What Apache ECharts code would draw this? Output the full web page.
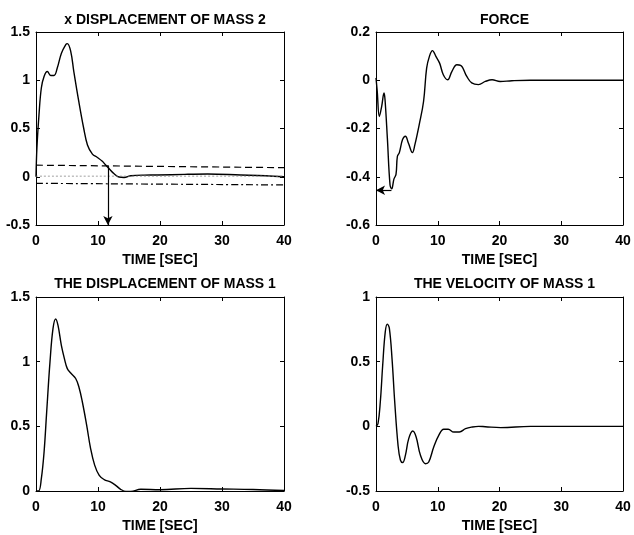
<!DOCTYPE html>
<html>
<head>
<meta charset="utf-8">
<script src="https://cdn.jsdelivr.net/npm/echarts@6/dist/echarts.min.js"></script>
<style>
html,body{margin:0;padding:0;background:#fff;}
#c{width:634px;height:535px;}
</style>
</head>
<body>
<div id="c"></div>
<script>
// ---- Data ----
var titles = ['x DISPLACEMENT OF MASS 2', 'FORCE', 'THE DISPLACEMENT OF MASS 1', 'THE VELOCITY OF MASS 1'];
var xName = 'TIME [SEC]';
var xTicks = [0, 10, 20, 30, 40];
var yRanges = [[-0.5, 1.5, 0.5], [-0.6, 0.2, 0.2], [0, 1.5, 0.5], [-0.5, 1, 0.5]];

// x displacement of mass 2
var m2T = [0, 0.15, 0.48, 0.86, 1.3, 1.83, 2.37, 2.9, 3.44, 4.1, 4.8, 5.05, 5.6, 6.1, 6.9, 7.7, 8.3, 9.1, 9.9, 10.7, 11.2, 11.8, 12.6, 13.4, 14.2, 15.3, 17.4, 19.6, 24, 27.7, 33, 37, 40];
var m2Y = [0, 0.3, 0.64, 0.92, 1.04, 1.09, 1.05, 1.05, 1.13, 1.28, 1.37, 1.38, 1.30, 1.09, 0.78, 0.50, 0.33, 0.235, 0.20, 0.16, 0.124, 0.083, 0.031, -0.003, -0.007, 0.01, 0.017, 0.018, 0.025, 0.028, 0.018, 0.01, 0.0];
// tolerance band lines (dashed upper, dash-dot lower) and zero reference
var bandT = [0, 40];
var bandUpper = [0.12, 0.094];
var bandLower = [-0.068, -0.085];
var zeroRef = [0.006, 0.006];
// settling-time arrow (t, from y, to y)
var settleArrow = [11.6, 0.11, -0.5];

// force
var fT = [0, 0.2, 0.54, 0.92, 1.3, 1.46, 1.84, 2.27, 2.54, 2.9, 3.24, 3.46, 3.78, 4.3, 4.76, 5.24, 5.9, 6.3, 7.0, 7.7, 8.2, 8.65, 9.14, 9.7, 10.3, 10.9, 11.6, 12.3, 13.1, 13.7, 14.7, 15.5, 16.6, 17.7, 18.8, 20.1, 22, 25, 30, 35, 40];
var fY = [0.01, -0.046, -0.15, -0.108, -0.053, -0.08, -0.24, -0.433, -0.45, -0.41, -0.39, -0.316, -0.30, -0.246, -0.232, -0.26, -0.30, -0.267, -0.184, -0.088, 0.05, 0.099, 0.123, 0.099, 0.071, 0.023, 0.002, 0.037, 0.064, 0.062, 0.016, -0.011, -0.018, -0.005, 0.002, -0.005, -0.002, 0, 0, 0, 0];
// peak-force arrow (y, from t, to t)
var forceArrow = [-0.456, 2.5, 0];

// displacement of mass 1
var m1T = [0, 0.43, 0.86, 1.3, 1.72, 2.26, 2.74, 3.17, 3.55, 4.09, 4.6, 5.05, 5.6, 6.4, 6.94, 7.47, 8.17, 8.8, 9.46, 10.2, 11, 12, 12.85, 13.65, 14.5, 15.3, 16.9, 20, 25, 30, 35, 40];
var m1Y = [0, 0, 0.095, 0.30, 0.61, 1.0, 1.255, 1.33, 1.28, 1.126, 1.02, 0.946, 0.912, 0.87, 0.80, 0.69, 0.51, 0.33, 0.2, 0.12, 0.088, 0.07, 0.044, 0.013, -0.003, -0.003, 0.013, 0.01, 0.02, 0.016, 0.012, 0.004];

// velocity of mass 1
var vT = [0, 0.32, 0.7, 1.08, 1.5, 1.84, 2.16, 2.6, 3.03, 3.57, 3.95, 4.32, 4.76, 5.3, 5.95, 6.5, 7.2, 8.0, 8.54, 9.35, 10.16, 10.97, 11.7, 12.6, 13.5, 14.5, 15.6, 16.6, 17.7, 20.2, 25, 30, 35, 40];
var vY = [0, 0.02, 0.19, 0.47, 0.73, 0.79, 0.76, 0.52, 0.19, -0.147, -0.26, -0.28, -0.224, -0.095, -0.036, -0.082, -0.224, -0.289, -0.276, -0.16, -0.07, -0.023, -0.023, -0.044, -0.044, -0.018, -0.005, 0, -0.003, -0.01, 0, 0, 0, 0];

function pairs(t, y) { return t.map(function (v, i) { return [v, y[i]]; }); }

// ---- Layout ----
var grids = [
  {left: 36, top: 32, width: 248, height: 193},
  {left: 376, top: 32, width: 247, height: 193},
  {left: 36, top: 297, width: 248, height: 194},
  {left: 376, top: 297, width: 247, height: 194}
];
var FONT = 'Liberation Sans';
var labelStyle = {color: '#000', fontFamily: FONT, fontWeight: 'bold', fontSize: 14};

var xAxes = [], yAxes = [], titleArr = [];
grids.forEach(function (g, i) {
  var yr = yRanges[i];
  xAxes.push({
    type: 'value', gridIndex: i, position: 'bottom', min: xTicks[0], max: xTicks[xTicks.length - 1],
    interval: xTicks[1] - xTicks[0],
    name: xName, nameLocation: 'middle', nameGap: 28,
    nameTextStyle: labelStyle,
    axisLine: {show: true, onZero: false, lineStyle: {color: '#000', width: 1}},
    axisTick: {show: true, inside: true, length: 4, lineStyle: {color: '#000'}},
    axisLabel: Object.assign({margin: 9}, labelStyle),
    splitLine: {show: false}
  });
  xAxes.push({
    type: 'value', gridIndex: i, position: 'top', min: xTicks[0], max: xTicks[xTicks.length - 1],
    interval: xTicks[1] - xTicks[0],
    axisLine: {show: true, onZero: false, lineStyle: {color: '#000', width: 1}},
    axisTick: {show: true, inside: true, length: 4, lineStyle: {color: '#000'}},
    axisLabel: {show: false}, splitLine: {show: false}
  });
  yAxes.push({
    type: 'value', gridIndex: i, position: 'left', min: yr[0], max: yr[1], interval: yr[2],
    axisLine: {show: true, onZero: false, lineStyle: {color: '#000', width: 1}},
    axisTick: {show: true, inside: true, length: 4, lineStyle: {color: '#000'}},
    axisLabel: Object.assign({margin: 6}, labelStyle),
    splitLine: {show: false}
  });
  yAxes.push({
    type: 'value', gridIndex: i, position: 'right', min: yr[0], max: yr[1], interval: yr[2],
    axisLine: {show: true, onZero: false, lineStyle: {color: '#000', width: 1}},
    axisTick: {show: true, inside: true, length: 4, lineStyle: {color: '#000'}},
    axisLabel: {show: false}, splitLine: {show: false}
  });
  titleArr.push({
    text: titles[i], left: g.left + g.width / 2, textAlign: 'center',
    top: i < 2 ? 8 : 272,
    textStyle: {color: '#000', fontFamily: FONT, fontWeight: 'bold', fontSize: 14}
  });
});

function lineSeries(idx, data, style) {
  return {
    type: 'line', xAxisIndex: idx * 2, yAxisIndex: idx * 2, data: data,
    showSymbol: false, symbol: 'none', smooth: 0.4,
    lineStyle: Object.assign({color: '#000', width: 1.4}, style || {}),
    silent: true, z: 3
  };
}

var series = [];
var s0 = lineSeries(0, pairs(m2T, m2Y));
s0.markLine = {
  silent: true, symbol: ['none', 'arrow'], symbolSize: [7, 9], label: {show: false},
  lineStyle: {color: '#000', type: 'solid', width: 1.2},
  data: [[{coord: [settleArrow[0], settleArrow[1]]}, {coord: [settleArrow[0], settleArrow[2]]}]]
};
series.push(s0);
series.push(lineSeries(0, pairs(bandT, bandUpper), {type: [7, 4], width: 1.2}));
series.push(lineSeries(0, pairs(bandT, bandLower), {type: [7, 3, 2, 3], width: 1.2}));
series.push(lineSeries(0, pairs(bandT, zeroRef), {type: [2, 2], width: 0.8, color: '#888'}));

var s1 = lineSeries(1, pairs(fT, fY));
s1.markLine = {
  silent: true, symbol: ['none', 'arrow'], symbolSize: [7, 9], label: {show: false},
  lineStyle: {color: '#000', type: 'solid', width: 1.2},
  data: [[{coord: [forceArrow[1], forceArrow[0]]}, {coord: [forceArrow[2], forceArrow[0]]}]]
};
series.push(s1);
series.push(lineSeries(2, pairs(m1T, m1Y)));
series.push(lineSeries(3, pairs(vT, vY)));

var chart = echarts.init(document.getElementById('c'), null, {renderer: 'canvas'});
chart.setOption({
  animation: false,
  backgroundColor: '#fff',
  title: titleArr,
  grid: grids,
  xAxis: xAxes,
  yAxis: yAxes,
  series: series
});
</script>
</body>
</html>
